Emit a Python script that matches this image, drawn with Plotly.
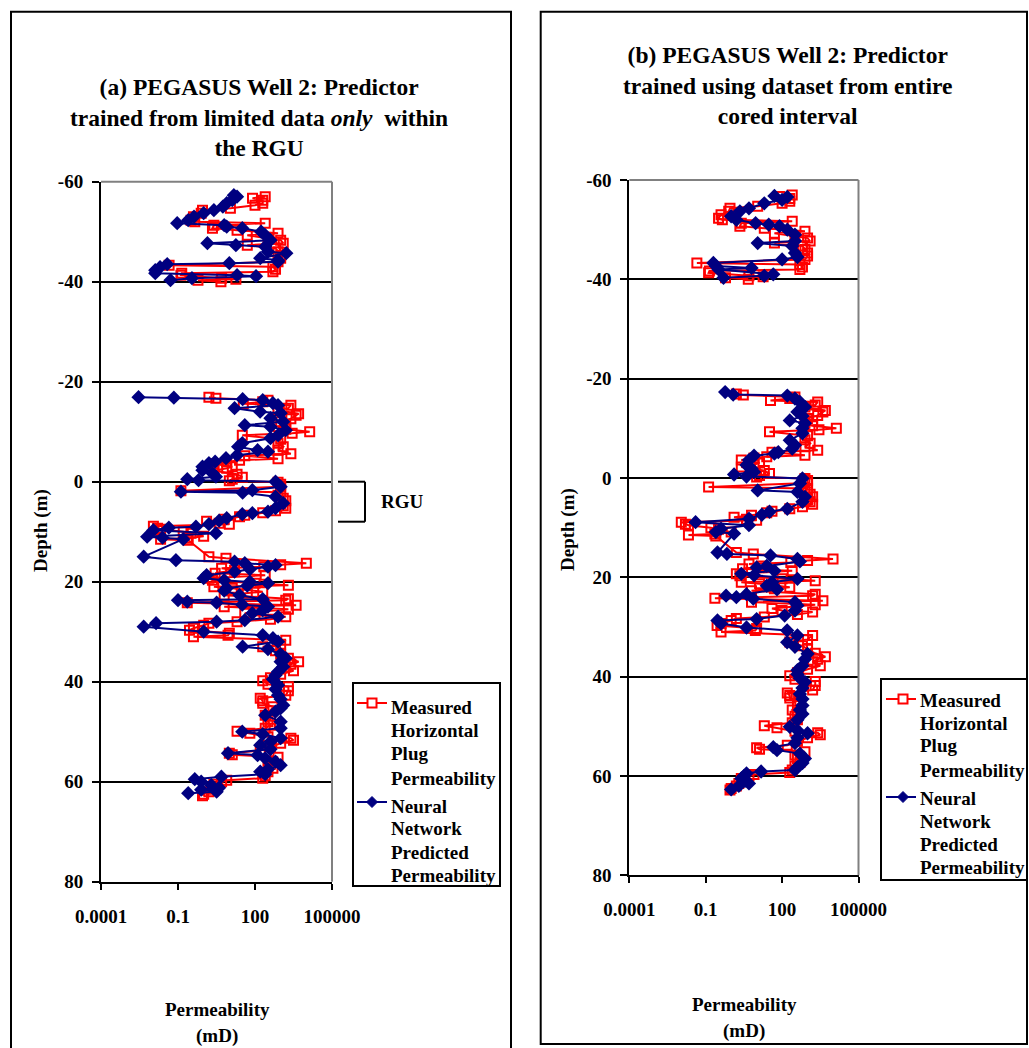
import plotly.graph_objects as go

# ---------------- data (depth in m, permeability in mD) ----------------
depth_measured = [
    -57.0, -56.7, -56.3, -55.7, -55.3, -54.7, -54.3, -53.7, -53.0, -52.3, -52.0, -51.7, -51.3, -50.7,
    -50.3, -49.7, -49.3, -48.7, -48.3, -47.7, -47.3, -46.7, -46.0, -45.3, -44.7, -44.0, -43.3, -43.0,
    -42.5, -42.0, -41.7, -41.3, -40.7, -40.5, -40.3, -40.0,
    None,
    -16.9, -16.7, -16.3, -16.0, -15.6, -15.3, -14.7, -14.3, -13.6, -13.3, -12.6, -12.0, -11.5, -11.0,
    -10.5, -10.0, -9.7, -9.3, -8.5, -7.7, -7.0, -6.3, -5.6, -5.2, -4.6, -4.3, -4.0, -3.6, -3.0, -2.7,
    -2.2, -1.5, -0.9, -0.5, -0.2, 0.1, 0.5, 1.0, 1.8, 2.1, 2.7, 3.3, 3.8, 4.3, 4.8, 5.3, 5.8, 6.2,
    6.7, 7.0, 7.5, 7.9, 8.3, 8.5, 8.9, 9.3, 9.5, 10.0, 10.3, 10.9, 11.3, 11.5, 11.7,
    15.0, 15.3, 16.3, 16.6, 17.0, 17.3, 17.7, 18.3, 18.7, 19.3, 19.7, 20.3, 20.7, 21.0, 21.3, 22.0,
    22.3, 22.7, 23.4, 23.7, 24.2, 24.7, 25.0, 25.5, 26.3, 26.7, 27.0, 27.5, 28.0, 28.3, 28.7, 29.3,
    29.7, 30.3, 30.7, 31.0, 31.7, 32.5, 33.0, 33.8, 34.5, 35.3, 36.0, 36.5, 37.0, 37.8, 38.5, 39.2,
    39.8, 40.5, 41.0, 41.8, 42.7, 43.3, 43.8, 44.3, 45.0, 45.8, 46.7, 47.5, 48.0, 48.7, 49.3, 49.9,
    50.3, 51.0, 51.3, 51.7, 52.3, 53.0, 53.8, 54.3, 54.6, 55.1, 55.8, 56.5, 57.3, 58.0, 58.8, 59.3,
    59.7, 60.0, 60.5, 61.0, 61.5, 62.0, 62.5, 62.8,
]
perm_measured = [
    250, 80, 200, 200, 100, 11, 0.9, 0.8, 0.4, 0.32, 0.45, 250, 2.5, 2.2,
    20, 790, 50, 320, 1000, 1260, 50, 630, 790, 1000, 1000, 790, 0.045, 500,
    630, 500, 0.14, 0.13, 5.0, 18, 0.6, 4.7,
    None,
    1.6, 3.0, 320, 200, 35, 2500, 2000, 790, 5000, 4000, 2500, 1000, 1580, 790,
    1580, 13500, 2800, 32, 1000, 790, 1260, 790, 2500, 40, 790, 25, 7.9, 2.5, 13, 7.9,
    2.5, 20, 32, 13, 10, 790, 1000, 1000, 0.13, 1000, 790, 1260, 1580, 1000, 1260, 1580, 630, 200,
    40, 25, 6.3, 1.3, 4.0, 10, 0.011, 0.016, 0.021, 0.16, 0.32, 1.0, 0.23, 0.021, 0.25,
    1.6, 7.4, 10000, 1000, 220, 5.0, 16, 2.8, 250, 1.6, 2.2, 100, 2000, 2.5, 13, 200,
    50, 6.3, 2000, 1580, 0.23, 4000, 6.3, 2000, 40, 100, 1580, 400, 20, 1.6, 1.0, 0.4,
    0.28, 10, 8.9, 0.4, 1580, 1000, 200, 630, 1000, 2000, 5000, 2500, 1580, 3160, 1000, 400,
    200, 320, 2000, 2000, 1580, 160, 200, 200, 500, 400, 250, 400, 320, 400, 250, 20,
    63, 320, 2500, 3160, 1000, 400, 160, 10, 13, 790, 320, 400, 500, 320, 250, 200,
    7.9, 5.0, 2.5, 2.8, 2.0, 1.6, 1.0, 0.9,
]

depth_pred_a = [
    -57.3, -57.0, -56.3, -55.7, -55.0, -54.3, -53.7, -53.0, -52.3, -51.7, -51.3, -51.0, -50.7, -50.0,
    -49.3, -48.3, -47.7, -47.3, -47.0, -46.0, -45.7, -44.7, -44.3, -44.0, -43.7, -43.5, -42.9, -42.3,
    -41.7, -41.3, -41.1, -40.7, -40.3,
    None,
    -16.9, -16.8, -16.5, -16.3, -15.7, -15.3, -14.7, -14.0, -13.7, -12.7, -12.0, -11.3, -11.0, -10.3,
    -9.3, -8.7, -7.7, -7.0, -6.3, -6.0, -5.3, -4.7, -4.0, -3.7, -3.0, -2.3, -1.7, -1.0, -0.5, -0.3,
    0.0, 1.0, 1.7, 2.0, 2.2, 3.0, 4.3, 5.3, 6.0, 6.3, 6.5, 7.3, 7.8, 8.5, 9.0, 9.2, 9.7, 10.3, 11.0,
    11.2, 11.5,
    15.0, 15.7, 16.0, 16.3, 16.7, 17.0, 17.5, 18.0, 18.7, 19.3, 19.7, 20.0, 20.3, 20.8, 21.3, 21.8,
    22.7, 23.5, 23.7, 24.0, 24.2, 24.6, 25.0, 25.7, 26.3, 27.0, 27.7, 28.0, 28.3, 29.0, 30.0, 30.7,
    31.3, 32.0, 33.0, 33.5, 34.5, 35.3, 36.0, 37.0, 38.0, 38.7, 39.5, 40.7, 41.5, 42.7, 43.5, 44.7,
    45.3, 46.0, 46.7, 48.0, 49.3, 50.0, 50.5, 51.3, 52.0, 52.7, 53.5, 54.3, 54.7, 55.3, 56.0, 56.7,
    57.5, 58.0, 58.5, 59.0, 59.5, 60.0, 60.7, 61.2, 61.6, 62.0, 62.3,
]
perm_pred_a = [
    15, 20, 13, 7.9, 5.6, 2.5, 1.0, 0.42, 0.25, 0.093, 6.3, 7.9, 32, 174,
    250, 400, 1.4, 18, 250, 320, 1660, 160, 790, 790, 10, 0.038, 0.02, 0.013,
    0.013, 20, 110, 0.35, 0.051,
    None,
    0.0029, 0.069, 33, 200, 500, 790, 16, 158, 1000, 400, 1260, 40, 400, 1580,
    790, 400, 32, 22, 126, 320, 20, 7.4, 2.8, 1.6, 0.9, 0.9, 2.2, 3.0, 0.23, 0.63,
    630, 1000, 79, 0.13, 33, 630, 1260, 630, 320, 79, 32, 7.9, 4.0, 1.6, 0.5, 0.044, 0.011, 3.0, 0.0063,
    0.025, 0.16,
    0.0046, 0.083, 16, 40, 630, 320, 63, 16, 1.3, 1.0, 6.3, 63, 320, 50, 7.9, 6.3,
    25, 200, 0.1, 0.23, 3.2, 32, 320, 200, 79, 790, 40, 3.2, 0.014, 0.0046, 1.0, 200,
    500, 790, 33, 320, 1000, 1580, 1000, 1260, 790, 630, 500, 790, 630, 790, 1000, 1260,
    1000, 630, 250, 1000, 1000, 32, 200, 1000, 400, 160, 400, 8.9, 126, 250, 630, 1000,
    320, 160, 250, 4.9, 0.45, 0.8, 2.0, 4.0, 0.8, 3.2, 0.25,
]

depth_pred_b = [
    -56.8, -56.6, -56.0, -55.3, -54.3, -53.7, -52.7, -52.0, -51.3, -51.0, -50.7, -50.0, -49.0, -47.7,
    -47.3, -46.7, -45.3, -44.5, -44.0, -43.3, -42.7, -42.3, -42.0, -41.0, -40.7, -40.3,
    None,
    -17.3, -16.8, -16.6, -16.0, -15.3, -14.3, -13.3, -12.5, -11.6, -11.0, -10.0, -9.0, -7.6, -6.6,
    -5.9, -5.2, -4.9, -4.5, -3.6, -2.6, -1.9, -1.2, -0.7, -0.3, 0.1, 1.1, 2.5, 2.8, 3.8, 4.8, 6.2,
    6.8, 7.4, 8.2, 8.9, 9.5, 10.2, 10.9, 11.2,
    15.0, 15.3, 15.6, 16.3, 16.8, 17.7, 18.0, 18.7, 19.3, 19.6, 20.3, 21.0, 21.7, 22.4, 23.4, 23.7,
    24.0, 24.3, 25.0, 25.7, 26.7, 27.7, 28.4, 28.7, 29.3, 30.1, 30.7, 31.7, 33.1, 34.0, 35.4, 36.5,
    37.8, 38.7, 39.5, 40.3, 41.1, 42.3, 43.5, 44.5, 45.8, 46.7, 47.5, 48.7, 50.1, 50.8, 51.4, 52.3,
    53.4, 54.2, 54.8, 55.5, 56.5, 57.4, 58.2, 58.8, 59.1, 59.5, 60.0, 60.5, 61.0, 61.5, 62.0, 62.7,
]
perm_pred_b = [
    50, 160, 100, 20, 5.0, 2.2, 1.0, 1.6, 9.1, 30, 79, 160, 320, 320,
    11, 250, 320, 400, 100, 0.2, 0.25, 6.3, 0.32, 45, 20, 0.5,
    None,
    0.58, 1.2, 160, 320, 500, 790, 400, 630, 200, 790, 630, 630, 200, 320,
    250, 71, 50, 7.9, 5.0, 4.0, 6.3, 7.9, 1.3, 4.0, 630, 500, 11, 400, 790, 630, 160,
    32, 16, 5.0, 0.04, 5.0, 0.4, 0.25, 1.3,
    0.29, 0.68, 35, 400, 500, 25, 10, 50, 2.5, 7.9, 400, 40, 25, 63, 4.0, 0.63,
    1.6, 7.4, 320, 400, 320, 126, 10, 0.29, 0.4, 4.0, 158, 400, 158, 320, 1000, 790,
    630, 400, 400, 500, 790, 630, 500, 630, 630, 500, 630, 400, 200, 400, 1000, 400,
    320, 45, 63, 500, 790, 630, 400, 320, 15, 4.0, 3.2, 2.5, 3.5, 5.0, 2.0, 1.0,
]

depth_ticks = [-60, -40, -20, 0, 20, 40, 60, 80]
depth_tick_text = ["-60", "-40", "-20", "0", "20", "40", "60", "80"]
perm_ticks = [0.0001, 0.1, 100, 100000]
perm_tick_text = ["0.0001", "0.1", "100", "100000"]

legend_measured = ["Measured", "Horizontal", "Plug", "Permeability"]
legend_pred = ["Neural", "Network", "Predicted", "Permeability"]

# ---------------- figure ----------------
W, H = 1029, 1048
SERIF = "Liberation Serif, Times New Roman, serif"
RED = "#FF0000"
NAVY = "#000080"


def fx(px):
    return px / W


def fy(py):
    return 1 - py / H


fig = go.Figure()


def add_pair(xa, ya, pred_depth, pred_perm):
    fig.add_trace(go.Scatter(
        x=perm_measured, y=depth_measured, mode="lines+markers", name="Measured Horizontal Plug Permeability",
        xaxis=xa, yaxis=ya, connectgaps=False, showlegend=False,
        line=dict(color=RED, width=2),
        marker=dict(symbol="square-open", size=9, color=RED, line=dict(color=RED, width=2)),
    ))
    fig.add_trace(go.Scatter(
        x=pred_perm, y=pred_depth, mode="lines+markers", name="Neural Network Predicted Permeability",
        xaxis=xa, yaxis=ya, connectgaps=False, showlegend=False,
        line=dict(color=NAVY, width=2),
        marker=dict(symbol="diamond", size=11, color=NAVY),
    ))


add_pair("x", "y", depth_pred_a, perm_pred_a)
add_pair("x2", "y2", depth_pred_b, perm_pred_b)

tickfont = dict(family=SERIF, size=19, color="black", weight="bold")

xcommon = dict(
    type="log", range=[-4, 5], tickvals=perm_ticks, ticktext=perm_tick_text,
    ticks="outside", ticklen=6, tickwidth=2, tickcolor="black",
    showline=True, linecolor="black", linewidth=2, showgrid=False, zeroline=False,
    tickfont=tickfont, ticklabelstandoff=10, automargin=False,
)
ycommon = dict(
    range=[80, -60], tickvals=depth_ticks, ticktext=depth_tick_text,
    ticks="outside", ticklen=7, tickwidth=2,
    tickcolor="black", showline=True, linecolor="black", linewidth=2,
    showgrid=True, gridcolor="black", gridwidth=1.5, zeroline=False,
    tickfont=tickfont, ticklabelstandoff=5, automargin=False,
)

fig.update_layout(
    width=W, height=H, margin=dict(l=0, r=0, t=0, b=0, autoexpand=False),
    paper_bgcolor="white", plot_bgcolor="white", showlegend=False,
    xaxis=dict(domain=[fx(101), fx(332)], anchor="y", **xcommon),
    yaxis=dict(domain=[fy(881.7), fy(181.7)], anchor="x", **ycommon),
    xaxis2=dict(domain=[fx(629.3), fx(858.5)], anchor="y2", **xcommon),
    yaxis2=dict(domain=[fy(875.3), fy(180)], anchor="x2", **ycommon),
)

shapes = []
# panel boxes
shapes.append(dict(type="rect", xref="paper", yref="paper", x0=fx(11), x1=fx(511),
                   y0=fy(1070), y1=fy(11.7), line=dict(color="black", width=2)))
shapes.append(dict(type="rect", xref="paper", yref="paper", x0=fx(540.7), x1=fx(1027),
                   y0=fy(1044), y1=fy(11.7), line=dict(color="black", width=2)))
# gray plot-area border (top and right)
for xd, yd in (("x", "y"), ("x2", "y2")):
    shapes.append(dict(type="line", xref=f"{xd} domain", yref=f"{yd} domain", x0=0, x1=1, y0=1, y1=1,
                       line=dict(color="#808080", width=2), layer="above"))
    shapes.append(dict(type="line", xref=f"{xd} domain", yref=f"{yd} domain", x0=1, x1=1, y0=0, y1=1,
                       line=dict(color="#808080", width=2), layer="above"))
# RGU bracket (depth 0 to 8 m)
for (x0, y0, x1, y1) in ((338, 0, 365, 0), (365, 0, 365, 8), (365, 8, 338, 8)):
    shapes.append(dict(type="line", xref="paper", yref="y", x0=fx(x0), x1=fx(x1), y0=y0, y1=y1,
                       line=dict(color="black", width=2)))


def label(text, x, y, size=19, angle=0, xanchor="center"):
    fig.add_annotation(text=text, x=fx(x), y=fy(y), xref="paper", yref="paper",
                       showarrow=False, xanchor=xanchor, yanchor="middle", textangle=angle,
                       font=dict(family=SERIF, size=size, color="black", weight="bold"))


def draw_legend(box, line_x, marker_x, text_x, sym_y, text_ys):
    bx0, by0, bx1, by1 = box
    shapes.append(dict(type="rect", xref="paper", yref="paper", x0=fx(bx0), x1=fx(bx1),
                       y0=fy(by1), y1=fy(by0), line=dict(color="black", width=2),
                       fillcolor="white", layer="above"))
    # measured symbol: red line with open square
    y1 = sym_y[0]
    shapes.append(dict(type="line", xref="paper", yref="paper", x0=fx(line_x[0]), x1=fx(line_x[1]),
                       y0=fy(y1), y1=fy(y1), line=dict(color=RED, width=2), layer="above"))
    shapes.append(dict(type="rect", xref="paper", yref="paper", x0=fx(marker_x - 4.5), x1=fx(marker_x + 4.5),
                       y0=fy(y1 + 4.5), y1=fy(y1 - 4.5), line=dict(color=RED, width=2),
                       fillcolor="white", layer="above"))
    # predicted symbol: navy line with diamond
    y2 = sym_y[1]
    shapes.append(dict(type="line", xref="paper", yref="paper", x0=fx(line_x[0]), x1=fx(line_x[1]),
                       y0=fy(y2), y1=fy(y2), line=dict(color=NAVY, width=2), layer="above"))
    path = "M {} {} L {} {} L {} {} L {} {} Z".format(
        fx(marker_x), fy(y2 - 5.5), fx(marker_x + 5.5), fy(y2),
        fx(marker_x), fy(y2 + 5.5), fx(marker_x - 5.5), fy(y2))
    shapes.append(dict(type="path", xref="paper", yref="paper", path=path,
                       line=dict(color=NAVY, width=1), fillcolor=NAVY, layer="above"))
    for word, ty in zip(legend_measured + legend_pred, text_ys):
        label(word, text_x, ty, xanchor="left")


draw_legend((353, 683, 500, 886), (357, 387), 372, 389,
            (703, 802), (707, 730, 753.5, 778, 806.5, 828.5, 852, 875))
draw_legend((881, 679, 1027, 880), (886, 916), 903, 918,
            (699, 797), (700, 723.5, 745.5, 770, 798.5, 821.5, 844, 867))

fig.update_layout(shapes=shapes)

label("(a) PEGASUS Well 2: Predictor<br>trained from limited data <i>only</i>  within<br>the RGU",
      259, 117, size=23.5)
label("(b) PEGASUS Well 2: Predictor<br>trained using dataset from entire<br>cored interval",
      787, 86, size=23.5)
label("Depth (m)", 41, 531, angle=-90)
label("Depth (m)", 568, 530, angle=-90)
label("Permeability", 217, 1009)
label("(mD)", 217, 1036)
label("Permeability", 744, 1004)
label("(mD)", 744, 1031)
fig.add_annotation(text="RGU", x=fx(402), y=4, xref="paper", yref="y", showarrow=False,
                   xanchor="center", yanchor="middle",
                   font=dict(family=SERIF, size=19, color="black", weight="bold"))

fig.write_html("out.html")
